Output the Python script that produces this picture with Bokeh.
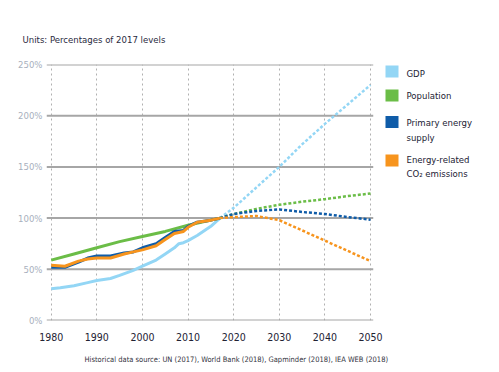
from bokeh.plotting import figure
from bokeh.models import Range1d, FixedTicker, Title, PrintfTickFormatter, ColumnDataSource
from bokeh.core.properties import value
from bokeh.embed import file_html
from bokeh.resources import INLINE

FONT = "'DejaVu Sans Condensed', 'Roboto', sans-serif"

# ---------------- data ----------------
hist_years_gdp = [1980, 1982, 1985, 1988, 1990, 1993, 1995, 1998, 2000, 2003, 2005, 2007, 2008, 2009, 2010, 2012, 2015, 2017]
hist_gdp = [31, 32, 34, 37, 39, 41, 44, 49, 53, 59, 65, 71, 75, 76, 78, 83, 92, 100]

hist_years_pop = [1980, 1985, 1990, 1995, 2000, 2005, 2010, 2015, 2017]
hist_pop = [59, 65, 71, 77, 82, 87, 93, 98, 100]

hist_years_en = [1980, 1983, 1986, 1988, 1990, 1993, 1996, 1998, 2000, 2003, 2005, 2007, 2009, 2010, 2012, 2015, 2017]
hist_energy = [52, 52, 57, 61, 63, 63, 66, 67, 71, 75, 81, 87, 88, 92, 96, 98, 100]

hist_years_co2 = [1980, 1983, 1986, 1988, 1990, 1993, 1996, 1998, 2000, 2003, 2005, 2007, 2009, 2010, 2012, 2015, 2017]
hist_co2 = [54, 53, 58, 60, 61, 61, 65, 67, 69, 73, 79, 85, 87, 91, 96, 98, 100]

proj_years = [2017, 2020, 2025, 2030, 2035, 2040, 2045, 2050]
proj_gdp = [100, 110, 130, 150, 172, 192, 211, 230]
proj_pop = [100, 104, 109, 113, 116, 118.5, 121.5, 124]
proj_energy = [100, 104, 107, 108.5, 106, 104, 101, 98.5]
proj_co2 = [100, 101, 102, 98, 88, 78, 68, 58]

series_names = ["GDP", "Population", "Primary energy\nsupply", "Energy-related\nCO\u2082 emissions"]
series_colors = ["#93d6f5", "#6bbd47", "#0f5ca8", "#f7941d"]

x_ticks = [1980, 1990, 2000, 2010, 2020, 2030, 2040, 2050]
y_ticks = [0, 50, 100, 150, 200, 250]

title_text = "Units: Percentages of 2017 levels"
source_text = "Historical data source: UN (2017), World Bank (2018), Gapminder (2018), IEA WEB (2018)"

# ---------------- layout helpers ----------------
PX_PER_YEAR = (370.0 - 50.7) / 70.0
X0 = 1980 - (50.7 - 46.0) / PX_PER_YEAR
X1 = X0 + 445.0 / PX_PER_YEAR
GRID_END = 2050.6


def xd(px):
    return 1980 + (px - 50.7) / PX_PER_YEAR


def yd(py):
    return (320.0 - py) * 250.0 / 256.0


p = figure(width=491, height=372, x_range=Range1d(X0, X1), y_range=Range1d(0, 250),
           output_backend="svg", toolbar_location=None,
           min_border_left=46, min_border_right=0, min_border_top=64, min_border_bottom=52)
p.outline_line_color = None
p.background_fill_color = "white"

# grids
p.ygrid.visible = False
p.xgrid.ticker = FixedTicker(ticks=x_ticks)
p.xgrid.grid_line_color = "#b0b0b0"
p.xgrid.grid_line_dash = "2 3"
p.xgrid.grid_line_width = 1

p.segment(x0=[X0] * len(y_ticks), x1=[GRID_END] * len(y_ticks), y0=y_ticks, y1=y_ticks,
          line_color="#a6a6a6", line_width=2)

# axes
p.xaxis.ticker = FixedTicker(ticks=x_ticks)
p.yaxis.ticker = FixedTicker(ticks=y_ticks)
p.yaxis.formatter = PrintfTickFormatter(format="%d%%")
for ax in (p.xaxis, p.yaxis):
    ax.axis_line_color = None
    ax.major_tick_line_color = None
    ax.minor_tick_line_color = None
    ax.major_tick_out = 0
    ax.major_tick_in = 0
    ax.major_label_text_font = FONT
p.xaxis.major_label_standoff = 12
p.xaxis.major_label_text_font_size = "10.5px"
p.xaxis.major_label_text_color = "#222233"
p.yaxis.major_label_standoff = 4
p.yaxis.major_label_text_font_size = "9.5px"
p.yaxis.major_label_text_color = "#a8b0bd"

# lines
hist = [(hist_years_gdp, hist_gdp), (hist_years_pop, hist_pop), (hist_years_en, hist_energy), (hist_years_co2, hist_co2)]
proj = [proj_gdp, proj_pop, proj_energy, proj_co2]
for (yrs, vals), pv, col in zip(hist, proj, series_colors):
    p.line(proj_years, pv, line_color=col, line_width=2.5, line_dash="3 2")
for (yrs, vals), col in zip(hist, series_colors):
    p.line(yrs, vals, line_color=col, line_width=3)

# legend (manual)
box_centers_px = [71, 95, 121.5, 160]
text_tops_px = [67, 89.5, 116.5, 153]
leg = ColumnDataSource(dict(
    x=[xd(391.5)] * 4,
    y=[yd(c) for c in box_centers_px],
    tx=[xd(406)] * 4,
    ty=[yd(t) for t in text_tops_px],
    name=series_names,
    color=series_colors,
))
p.rect(x="x", y="y", width=13, height=12, width_units="screen", height_units="screen",
       fill_color="color", line_color=None, source=leg)
p.text(x="tx", y="ty", text="name", source=leg, text_font=value(FONT), text_font_size="9.5px",
       text_color="#222233", text_baseline="top", text_align="left", text_line_height=1.35)

# titles
p.title = Title(text=title_text, align="left", offset=-24, text_font=FONT,
                text_font_size="9.5px", text_font_style="normal", text_color="#2a2a40", standoff=39)
p.add_layout(Title(text=source_text, align="left", offset=38, text_font=FONT,
                   text_font_size="7.5px", text_font_style="normal", text_color="#333340", standoff=18), "below")

open("out.html", "w").write(file_html(p, INLINE))
